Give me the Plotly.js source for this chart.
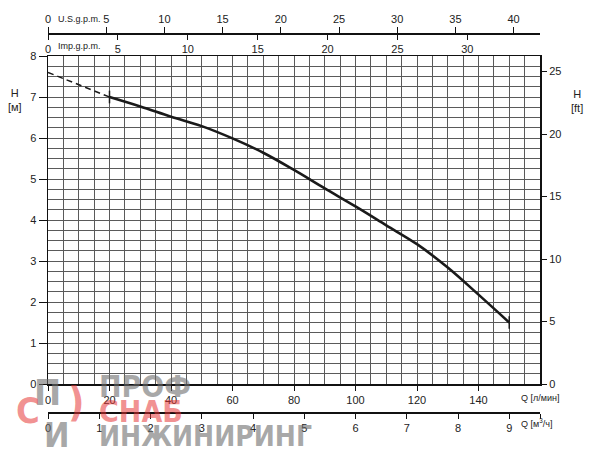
<!DOCTYPE html>
<html>
<head>
<meta charset="utf-8">
<script src="https://cdn.plot.ly/plotly-3.0.1.min.js"></script>
<style>html,body{margin:0;padding:0;background:#fff}#chart{width:600px;height:467px}</style>
</head>
<body>
<div id="chart"></div>
<script>
// Pump curve: flow Q (l/min) vs head H (m)
const qDashed = [0, 20];
const hDashed = [7.6, 7.0];
const qCurve = [20, 30, 40, 50, 60, 70, 80, 90, 100, 110, 120, 130, 140, 150];
const hCurve = [7.0, 6.77, 6.52, 6.29, 5.99, 5.64, 5.22, 4.77, 4.33, 3.87, 3.41, 2.84, 2.18, 1.5];

const lminTicks = [0, 20, 40, 60, 80, 100, 120, 140];
const mTicks = [0, 1, 2, 3, 4, 5, 6, 7, 8];
const ftTicks = [0, 5, 10, 15, 20, 25];
const usTicks = [0, 5, 10, 15, 20, 25, 30, 35, 40];
const impTicks = [0, 5, 10, 15, 20, 25, 30];
const m3hTicks = [0, 1, 2, 3, 4, 5, 6, 7, 8, 9, 9.6];
const m3hText = ['0', '1', '2', '3', '4', '5', '6', '7', '8', '9', ''];

const Q_MAX = 160, H_MAX = 8;
const FT_PER_M = 3.28084, LPM_PER_USG = 3.78541, LPM_PER_IMPG = 4.54609, LPM_PER_M3H = 1000 / 60;

const FONT = 'Liberation Sans Narrow, Liberation Sans, Arial, sans-serif';
const tickFont = {family: FONT, size: 11, color: '#222'};
const GRID = '#5a5a5a';
const WM_GRAY = 'rgba(110,110,110,0.6)';
const WM_RED = 'rgba(230,50,50,0.55)';

function ghost(xa, ya, xv, yv) {
  return {x: [xv], y: [yv], type: 'scatter', mode: 'markers', xaxis: xa, yaxis: ya,
          marker: {size: 1, opacity: 0}, hoverinfo: 'skip', showlegend: false};
}

const traces = [
  {x: qDashed, y: hDashed, type: 'scatter', mode: 'lines', xaxis: 'x', yaxis: 'y',
   line: {color: '#1a1a1a', width: 1.5, dash: '6px,4px'}, hoverinfo: 'skip'},
  {x: qCurve, y: hCurve, type: 'scatter', mode: 'lines', xaxis: 'x', yaxis: 'y',
   line: {color: '#1a1a1a', width: 2.6, shape: 'spline', smoothing: 1}, hoverinfo: 'skip'},
  {x: [qCurve[0], qCurve[qCurve.length - 1]], y: [hCurve[0], hCurve[hCurve.length - 1]],
   type: 'scatter', mode: 'markers', xaxis: 'x', yaxis: 'y',
   marker: {symbol: 'line-ns', size: 9, line: {color: '#1a1a1a', width: 1.5}}, hoverinfo: 'skip'},
  ghost('x', 'y2', lminTicks[0], ftTicks[0]),
  ghost('x2', 'y', usTicks[0], mTicks[0]),
  ghost('x3', 'y', impTicks[0], mTicks[0]),
  ghost('x4', 'y', m3hTicks[0], mTicks[0])
];

const yDom = [63 / 437, 391 / 437];

function note(text, px, py, font, xanchor) {
  return {text: text, xref: 'paper', yref: 'paper', x: (px - 48) / 492, y: (447 - py) / 437,
          xanchor: xanchor || 'center', yanchor: 'middle', showarrow: false, font: font};
}
const labFont = (s) => ({family: FONT, size: s, color: '#222'});
const wmFont = (s, c) => ({family: 'DejaVu Sans Condensed, DejaVu Sans', size: s, weight: 'bold', color: c});

const layout = {
  width: 600, height: 467,
  margin: {l: 48, r: 60, t: 10, b: 20, pad: 0},
  paper_bgcolor: '#fff', plot_bgcolor: '#fff',
  showlegend: false,
  font: tickFont,
  xaxis: {
    range: [0, Q_MAX], anchor: 'y', side: 'bottom',
    tickvals: lminTicks, ticks: 'outside', ticklen: 5, tickwidth: 1, tickcolor: '#111',
    showline: true, mirror: true, linecolor: '#111', linewidth: 1.5,
    showgrid: true, gridcolor: GRID, gridwidth: 1, zeroline: false,
    minor: {tick0: 0, dtick: 5, showgrid: true, gridcolor: GRID, gridwidth: 1, ticks: ''},
    tickfont: tickFont, fixedrange: true
  },
  yaxis: {
    range: [0, H_MAX], domain: yDom, anchor: 'x',
    tickvals: mTicks, ticks: 'outside', ticklen: 8, tickwidth: 1, tickcolor: '#111',
    showline: true, mirror: true, linecolor: '#111', linewidth: 1.5,
    showgrid: true, gridcolor: GRID, gridwidth: 1, zeroline: false,
    minor: {tick0: 0, dtick: 0.25, showgrid: true, gridcolor: GRID, gridwidth: 1, ticks: ''},
    tickfont: tickFont, fixedrange: true
  },
  yaxis2: {
    range: [0, H_MAX * FT_PER_M], overlaying: 'y', side: 'right', anchor: 'x',
    tickvals: ftTicks, ticks: 'outside', ticklen: 6, tickwidth: 1, tickcolor: '#111',
    showline: false, showgrid: false, zeroline: false, tickfont: tickFont, fixedrange: true
  },
  xaxis2: {
    range: [0, Q_MAX / LPM_PER_USG], overlaying: 'x', anchor: 'free', position: 414 / 437, side: 'top',
    tickvals: usTicks, ticks: 'outside', ticklen: 6, tickwidth: 1, tickcolor: '#111',
    showline: true, linecolor: '#111', linewidth: 1.5, showgrid: false, zeroline: false,
    tickfont: tickFont, fixedrange: true
  },
  xaxis3: {
    range: [0, Q_MAX / LPM_PER_IMPG], overlaying: 'x', anchor: 'free', position: 414 / 437, side: 'bottom',
    tickvals: impTicks, ticks: 'outside', ticklen: 6, tickwidth: 1, tickcolor: '#111',
    showline: false, showgrid: false, zeroline: false, tickfont: tickFont, fixedrange: true
  },
  xaxis4: {
    range: [0, Q_MAX / LPM_PER_M3H], overlaying: 'x', anchor: 'free', position: 35 / 437, side: 'bottom',
    tickvals: m3hTicks, ticktext: m3hText, ticks: 'outside', ticklen: 5, tickwidth: 1, tickcolor: '#111',
    showline: true, linecolor: '#111', linewidth: 1.5, showgrid: false, zeroline: false,
    tickfont: tickFont, fixedrange: true
  },
  annotations: [
    note('U.S.g.p.m.', 79, 19, labFont(9)),
    note('Imp.g.p.m.', 79, 46, labFont(9)),
    note('H<br>[м]', 15, 100, labFont(11)),
    note('H<br>[ft]', 577, 101, labFont(11)),
    note('Q [л/мин]', 519, 398, labFont(9), 'left'),
    note('Q [м<sup>3</sup>/ч]', 519, 423, labFont(9), 'left'),
    // watermark
    note('П', 47, 392, wmFont(36, WM_GRAY)),
    note('С', 28, 410, wmFont(36, WM_RED)),
    note('И', 57, 435, wmFont(34, WM_GRAY)),
    note(')', 76, 402, wmFont(40, WM_RED)),
    note('ПРОФ', 97, 386, wmFont(30, WM_GRAY), 'left'),
    note('СНАБ', 97, 411, wmFont(30, WM_RED), 'left'),
    note('ИНЖИНИРИНГ', 97, 436, wmFont(28, WM_GRAY), 'left')
  ]
};

Plotly.newPlot('chart', traces, layout, {displayModeBar: false, staticPlot: true});
</script>
</body>
</html>
